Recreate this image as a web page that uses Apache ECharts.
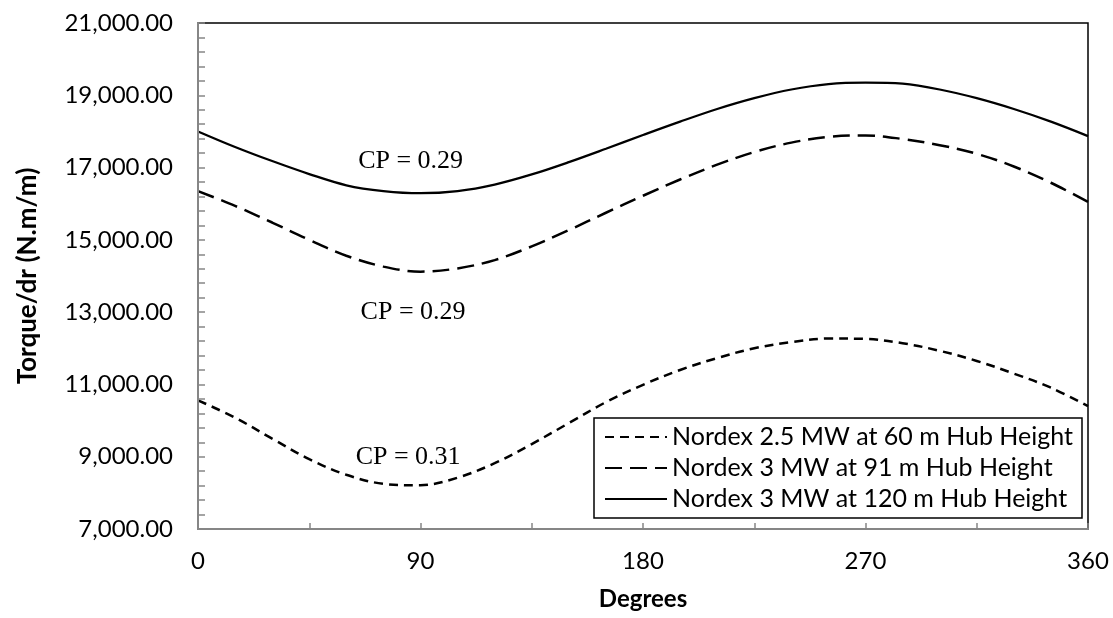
<!DOCTYPE html>
<html>
<head>
<meta charset="utf-8">
<script src="https://cdn.jsdelivr.net/npm/echarts@6/dist/echarts.min.js"></script>
<style>
  html, body { margin: 0; padding: 0; background: #fff; }
  #chart { width: 1113px; height: 618px; }
</style>
</head>
<body>
<div id="chart"></div>
<script>
// Rotor angle in degrees, sampled every 15°
const degrees = [0, 15, 30, 45, 60, 75, 90, 105, 120, 135, 150, 165, 180,
                 195, 210, 225, 240, 255, 270, 285, 300, 315, 330, 345, 360];

// Torque per unit span (N.m/m) for each turbine
const nordex25_60 = [10560, 10080, 9500, 8930, 8500, 8250, 8210, 8420, 8820, 9350, 9930, 10510, 10990,
                     11400, 11730, 12000, 12170, 12270, 12260, 12140, 11930, 11650, 11300, 10910, 10400];
const nordex3_91  = [16350, 15940, 15480, 15000, 14560, 14260, 14120, 14210, 14440, 14820, 15270, 15750, 16220,
                     16670, 17080, 17430, 17690, 17850, 17890, 17790, 17620, 17380, 17030, 16580, 16050];
const nordex3_120 = [18000, 17570, 17180, 16820, 16510, 16350, 16290, 16350, 16530, 16810, 17150, 17520, 17900,
                     18270, 18620, 18920, 19160, 19310, 19350, 19320, 19160, 18920, 18620, 18270, 17870];

const seriesNames = [
  'Nordex 2.5 MW at 60 m Hub Height',
  'Nordex 3 MW at 91 m Hub Height',
  'Nordex 3 MW at 120 m Hub Height'
];

// Power coefficient annotations, placed in data coordinates [degree, torque]
const cpTexts = ['CP = 0.29', 'CP = 0.29', 'CP = 0.31'];
const cpDegrees = [86, 87, 85];
const cpTorques = [17180, 13010, 9000];

// Axis ranges and ticks
const xMin = 0, xMax = 360, xStep = 90;
const yMin = 7000, yMax = 21000, yStep = 2000;

const uiFont = 'Lato, "Open Sans", "Liberation Sans", sans-serif';
const serifFont = '"Liberation Serif", "DejaVu Serif", serif';

function pairs(ys) { return degrees.map((d, i) => [d, ys[i]]); }

const chart = echarts.init(document.getElementById('chart'), null, { renderer: 'canvas' });

const lineBase = { type: 'line', smooth: 0.35, symbol: 'none', showSymbol: false, z: 3 };
const tickGray = '#868686';

chart.setOption({
  animation: false,
  backgroundColor: '#ffffff',
  grid: {
    left: 198, right: 25, top: 23, bottom: 89,
    show: true, borderColor: '#000000', borderWidth: 1.5, backgroundColor: 'transparent'
  },
  xAxis: {
    type: 'value', min: xMin, max: xMax, interval: xStep,
    name: 'Degrees', nameLocation: 'middle', nameGap: 58,
    nameTextStyle: { fontFamily: uiFont, fontSize: 24, fontWeight: 'bold', color: '#000' },
    axisLine: { show: true, onZero: false, lineStyle: { color: tickGray, width: 2 } },
    axisTick: { show: true, inside: true, length: 6, lineStyle: { color: tickGray, width: 1.5 } },
    minorTick: { show: true, splitNumber: 2, length: 6, lineStyle: { color: tickGray, width: 1.5 } },
    splitLine: { show: false },
    axisLabel: { margin: 20, fontFamily: uiFont, fontSize: 24, color: '#000' },
    z: 4
  },
  yAxis: {
    type: 'value', min: yMin, max: yMax, interval: yStep,
    name: 'Torque/dr (N.m/m)', nameLocation: 'middle', nameGap: 157, nameRotate: 90,
    nameTextStyle: { fontFamily: uiFont, fontSize: 26, fontWeight: 'bold', color: '#000' },
    axisLine: { show: true, onZero: false, lineStyle: { color: tickGray, width: 2 } },
    axisTick: { show: true, inside: true, length: 7, lineStyle: { color: tickGray, width: 1.5 } },
    minorTick: { show: true, splitNumber: 5, length: 7, lineStyle: { color: tickGray, width: 1.5 } },
    splitLine: { show: false },
    axisLabel: {
      margin: 25, fontFamily: uiFont, fontSize: 24, color: '#000',
      formatter: v => v.toLocaleString('en-US', { minimumFractionDigits: 2, maximumFractionDigits: 2 })
    },
    z: 4
  },
  legend: {
    show: true, orient: 'vertical', left: 594, top: 418,
    data: seriesNames,
    backgroundColor: '#ffffff', borderColor: '#000000', borderWidth: 1.5,
    padding: [4, 9, 4, 10], itemGap: 1, itemWidth: 62, itemHeight: 14,
    itemStyle: { opacity: 0 },
    textStyle: { fontFamily: uiFont, fontSize: 25, lineHeight: 30, color: '#000' },
    z: 6
  },
  series: [
    Object.assign({}, lineBase, {
      name: seriesNames[0], data: pairs(nordex25_60),
      lineStyle: { color: '#000', width: 2.5, type: [9, 6] }, itemStyle: { color: '#000' }
    }),
    Object.assign({}, lineBase, {
      name: seriesNames[1], data: pairs(nordex3_91),
      lineStyle: { color: '#000', width: 2.5, type: [17, 8] }, itemStyle: { color: '#000' }
    }),
    Object.assign({}, lineBase, {
      name: seriesNames[2], data: pairs(nordex3_120),
      lineStyle: { color: '#000', width: 2.25, type: 'solid' }, itemStyle: { color: '#000' }
    }),
    {
      // CP annotations: invisible anchor points carrying text labels
      type: 'scatter', name: 'cp', symbol: 'circle', symbolSize: 1, silent: true, z: 5,
      itemStyle: { color: '#ffffff', opacity: 1 },
      data: cpTexts.map((t, i) => ({ value: [cpDegrees[i], cpTorques[i]], label: { formatter: t } })),
      label: {
        show: true, position: 'inside', color: '#000000', opacity: 1,
        textBorderWidth: 0, textShadowBlur: 0,
        fontFamily: serifFont, fontSize: 26
      }
    }
  ]
});
</script>
</body>
</html>
